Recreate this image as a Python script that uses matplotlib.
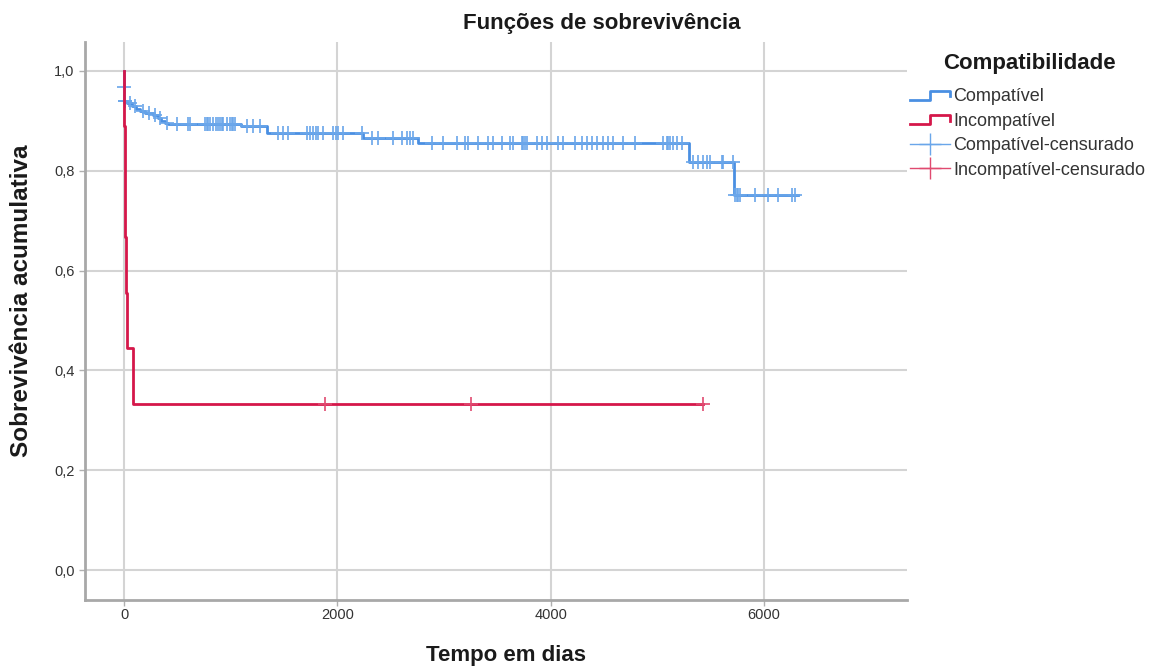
import numpy as np
import matplotlib
matplotlib.use('Agg')
import matplotlib.pyplot as plt
from matplotlib.lines import Line2D
from matplotlib.legend_handler import HandlerBase

plt.rcParams['font.family'] = ['Liberation Sans', 'DejaVu Sans']

# Compatível: tempos dos óbitos e sobrevivência depois de cada óbito
comp_event_t = [1, 4, 30, 72, 110, 150, 200, 272, 319, 350, 384, 412,
                1100, 1340, 2240, 2755, 5293, 5715]
comp_event_s = [0.968, 0.940, 0.936, 0.930, 0.924, 0.920, 0.916, 0.912, 0.906,
                0.900, 0.896, 0.893, 0.889, 0.875, 0.865, 0.855, 0.817, 0.752]
comp_end = 6317
comp_cens_t = [2, 6, 10, 60, 100, 180, 230, 290, 340, 400,
               494, 603, 618, 760, 775, 790, 806, 837, 860, 880, 900, 915, 930,
               962, 990, 1009, 1020, 1040, 1150, 1212, 1275,
               1446, 1493, 1540, 1712, 1740, 1775, 1800, 1821, 1868, 1962, 1990,
               2009, 2056, 2228, 2321, 2384,
               2521, 2605, 2652, 2680, 2710,
               2884, 2993, 3118, 3196, 3227, 3321, 3414, 3461, 3540, 3618, 3649,
               3727, 3743, 3758, 3774, 3868, 3915, 3962, 4071, 4118, 4227, 4290,
               4337, 4383, 4430, 4493, 4540, 4586, 4680, 4789,
               5054, 5086, 5101, 5117, 5148, 5180, 5227,
               5336, 5382, 5429, 5461, 5492, 5602, 5617, 5712,
               5726, 5742, 5757, 5773, 5914, 6039, 6133, 6258, 6289]

# Incompatível
inc_event_t = [2, 5, 8, 20, 25, 85]
inc_event_s = [0.889, 0.778, 0.667, 0.556, 0.444, 0.333]
inc_end = 5430
inc_cens_t = [1880, 3250, 5430]

blue = '#4a8fe2'
red = '#d5174a'


def step_xy(ev_t, ev_s, end):
    t = np.array([0] + ev_t + [end], dtype=float)
    s = np.array([1.0] + ev_s + [ev_s[-1]], dtype=float)
    return t, s


def surv_at(tc, ev_t, ev_s):
    t = np.array([0] + ev_t, dtype=float)
    s = np.array([1.0] + ev_s)
    idx = np.searchsorted(t, tc, side='right') - 1
    return s[idx]


fig = plt.figure(figsize=(11.52, 6.68), dpi=100)
ax = fig.add_axes([85 / 1152, 1 - 600 / 668, (907 - 85) / 1152, (600 - 42) / 668])

ax.set_xlim(-366, 7340)
ax.set_ylim(-0.06, 1.058)
ax.set_xticks([0, 2000, 4000, 6000])
ax.set_yticks([0, 0.2, 0.4, 0.6, 0.8, 1.0])
ax.set_yticklabels(['0,0', '0,2', '0,4', '0,6', '0,8', '1,0'])
ax.grid(True, color='#d4d4d4', linewidth=1.5)
ax.set_axisbelow(True)
for sp in ['top', 'right']:
    ax.spines[sp].set_visible(False)
for sp in ['left', 'bottom']:
    ax.spines[sp].set_color('#a8a8a8')
    ax.spines[sp].set_linewidth(2)
ax.tick_params(axis='both', colors='#b0b0b0', labelcolor='#333333',
               labelsize=10.5, length=4, width=1)
ax.tick_params(axis='x', pad=2)

t, s = step_xy(comp_event_t, comp_event_s, comp_end)
ax.step(t, s, where='post', color=blue, lw=2, zorder=3)
ax.plot(comp_cens_t, surv_at(comp_cens_t, comp_event_t, comp_event_s), ls='none',
        marker='+', ms=10, mew=1.2, color='#6aa6ea', zorder=4)

t, s = step_xy(inc_event_t, inc_event_s, inc_end)
ax.step(t, s, where='post', color=red, lw=2, zorder=5)
ax.plot(inc_cens_t, surv_at(inc_cens_t, inc_event_t, inc_event_s), ls='none',
        marker='+', ms=10, mew=1.2, color='#e04a70', zorder=6)

fig.text(602 / 1152, 1 - 24 / 668, 'Funções de sobrevivência', fontsize=16,
         fontweight='bold', ha='center', va='center', color='#1a1a1a')
fig.text(506 / 1152, 1 - 655 / 668, 'Tempo em dias', fontsize=16,
         fontweight='bold', ha='center', va='center', color='#1a1a1a')
fig.text(22 / 1152, 1 - 301 / 668, 'Sobrevivência acumulativa', fontsize=17.5,
         fontweight='bold', ha='center', va='center', rotation=90, color='#1a1a1a')
fig.text(1029 / 1152, 1 - 64 / 668, 'Compatibilidade', fontsize=16,
         fontweight='bold', ha='center', va='center', color='#1a1a1a')


class StepHandler(HandlerBase):
    def create_artists(self, legend, orig_handle, xdescent, ydescent, width, height,
                       fontsize, trans):
        xs = np.array([0, 0.5, 0.5, 1.0, 1.0]) * width - xdescent
        ys = np.array([0.1, 0.1, 0.8, 0.8, 0.4]) * height - ydescent
        ln = Line2D(xs, ys, color=orig_handle.get_color(), lw=2)
        ln.set_transform(trans)
        return [ln]


h1 = Line2D([], [], color=blue)
h2 = Line2D([], [], color=red)
h3 = Line2D([], [], color='#6aa6ea', marker='+', ms=16, mew=1, lw=1)
h4 = Line2D([], [], color='#e04a70', marker='+', ms=16, mew=1, lw=1)
leg = fig.legend([h1, h2, h3, h4],
                 ['Compatível', 'Incompatível', 'Compatível-censurado', 'Incompatível-censurado'],
                 handler_map={h1: StepHandler(), h2: StepHandler()},
                 loc='upper left', bbox_to_anchor=(910 / 1152, 1 - 88 / 668),
                 frameon=False, fontsize=13, borderpad=0, borderaxespad=0,
                 handlelength=2.2, handletextpad=0.2, labelspacing=0.42)
for txt in leg.get_texts():
    txt.set_color('#333333')

fig.savefig('out.png', dpi=100)
